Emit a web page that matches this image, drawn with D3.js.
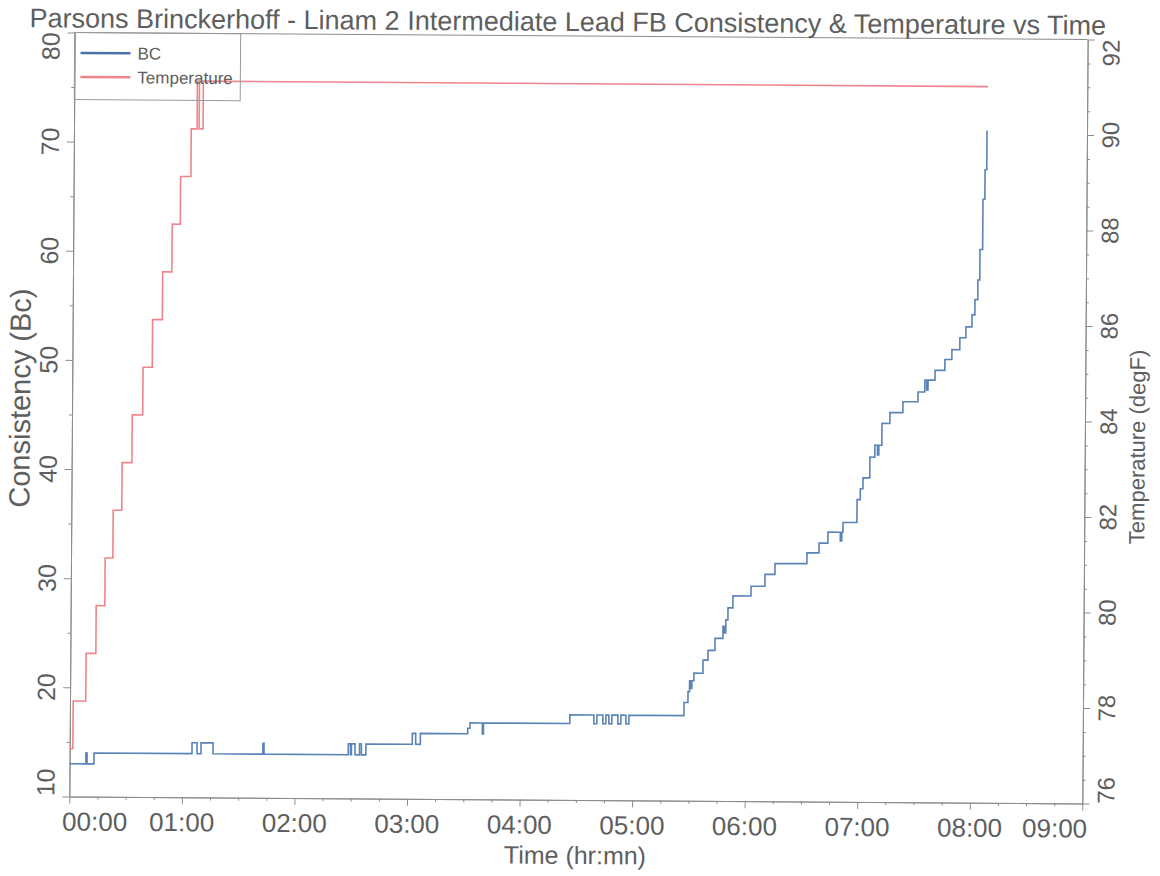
<!DOCTYPE html>
<html><head><meta charset="utf-8">
<script src="https://cdn.jsdelivr.net/npm/d3@7"></script>
<style>
body{margin:0;background:#fff}
text{font-family:"Liberation Sans",Arial,sans-serif;fill:#5e5e5e}
</style>
</head><body>
<svg id="c" width="1160" height="876"></svg>
<script>
const titleText = "Parsons Brinckerhoff - Linam 2 Intermediate Lead FB Consistency & Temperature vs Time";
const xLabel = "Time (hr:mn)";
const yLeftLabel = "Consistency (Bc)";
const yRightLabel = "Temperature (degF)";
const seriesNames = ["BC", "Temperature"];
const xTickMinutes = [0, 60, 120, 180, 240, 300, 360, 420, 480, 540];
const xTickLabels = ["00:00", "01:00", "02:00", "03:00", "04:00", "05:00", "06:00", "07:00", "08:00", "09:00"];
const bcTicks = [10, 20, 30, 40, 50, 60, 70, 80];
const tempTicks = [76, 78, 80, 82, 84, 86, 88, 90, 92];

// BC consistency: time (min) and value, held until the next sample
const bcTime = [0, 8.7, 9.3, 13.0, 65.2, 67.9, 70.0, 76.4, 103.0, 103.6,
  148.5, 149.7, 150.2, 152.1, 154.5, 155.5, 157.9, 182.6, 184.4, 186.9,
  212.1, 213.3, 219.9, 220.5, 266.5, 279.3, 280.9, 284.1, 285.7, 287.3,
  288.9, 292.1, 293.7, 296.4, 298.0, 327.3, 329.4, 330.2, 330.8, 331.4,
  332.5, 337.3, 339.9, 343.6, 347.8, 348.6, 349.3, 350.4, 353.0, 362.6,
  370.0, 375.3, 392.3, 398.7, 403.4, 410.0, 410.8, 411.4, 418.8, 420.5,
  421.9, 425.5, 428.1, 429.5, 430.2, 431.8, 436.0, 442.9, 450.9, 454.5,
  455.5, 456.2, 459.9, 465.1, 468.8, 473.0, 476.2, 479.4, 480.9, 482.4,
  483.4, 484.8, 485.8, 486.7];
const bcValue = [13, 14, 13, 14, 15, 14, 15, 14, 15, 14,
  15, 14, 15, 14, 15, 14, 15, 16, 15, 16,
  16.5, 17, 16, 17, 17.8, 17, 17.8, 17, 17.8, 17,
  17.8, 17, 17.8, 17, 17.8, 19, 20, 21, 20.3, 21,
  21.7, 22.9, 23.8, 24.9, 26, 25.4, 26.6, 27.7, 28.8, 29.7,
  30.8, 31.8, 32.8, 33.7, 34.7, 33.9, 34.7, 35.6, 37.7, 38.7,
  39.7, 41.6, 42.7, 41.8, 42.7, 44.7, 45.7, 46.7, 47.6, 48.7,
  47.8, 48.7, 49.6, 50.6, 51.5, 52.6, 53.6, 54.7, 56.1, 57.9,
  60.7, 65.3, 68.0, 71.6];

// Temperature: time (min) and value (degF)
const tempTime = [0, 1.7, 8.4, 13.6, 18.2, 22.3, 26.9, 32.1, 37.7, 42.6, 47.8, 52.7, 57.0, 62.5, 65.6, 66.7, 68.8, 487.1];
const tempValue = [77, 78, 79, 80, 81, 82, 83, 84, 85, 86, 87, 88, 89, 90, 91, 90, 91, 91];

const m = {left: 72, right: 1085, top: 36, bottom: 800};
const axisColor = "#8c8c8c";
const bcColor = "#5a83b7";
const bcLegendColor = "#4a72a4";
const tempColor = "#f0848c";

const svg = d3.select("#c");
const g = svg.append("g").attr("transform", "rotate(0.4,578.5,418)");

const x = d3.scaleLinear().domain([0, 540]).range([m.left, m.right]);
const yL = d3.scaleLinear().domain([10, 80]).range([m.bottom, m.top]);
const yR = d3.scaleLinear().domain([76, 92]).range([m.bottom, m.top]);

function styleAxis(sel) {
  sel.selectAll("path,line").attr("stroke", axisColor).attr("stroke-width", 1);
  sel.selectAll("text").remove();
}

// minor + major ticks
const minorX = d3.range(0, 541, 15).filter(v => v % 60 !== 0);
g.append("g").attr("transform", `translate(0,${m.bottom})`)
  .call(d3.axisBottom(x).tickValues(minorX).tickSize(3).tickSizeOuter(0)).call(styleAxis);
g.append("g").attr("transform", `translate(0,${m.bottom})`)
  .call(d3.axisBottom(x).tickValues(xTickMinutes).tickSize(7).tickSizeOuter(0)).call(styleAxis);

const minorL = d3.range(15, 80, 10);
g.append("g").attr("transform", `translate(${m.left},0)`)
  .call(d3.axisLeft(yL).tickValues(minorL).tickSize(3).tickSizeOuter(0)).call(styleAxis);
g.append("g").attr("transform", `translate(${m.left},0)`)
  .call(d3.axisLeft(yL).tickValues(bcTicks).tickSize(7).tickSizeOuter(0)).call(styleAxis);

const minorR = d3.range(76.5, 92, 0.5).filter(v => v % 2 !== 0);
g.append("g").attr("transform", `translate(${m.right},0)`)
  .call(d3.axisRight(yR).tickValues(minorR).tickSize(3).tickSizeOuter(0)).call(styleAxis);
g.append("g").attr("transform", `translate(${m.right},0)`)
  .call(d3.axisRight(yR).tickValues(tempTicks).tickSize(7).tickSizeOuter(0)).call(styleAxis);

// top frame line
g.append("line").attr("x1", m.left).attr("x2", m.right).attr("y1", m.top).attr("y2", m.top)
  .attr("stroke", axisColor).attr("stroke-width", 1);

// x tick labels
xTickMinutes.forEach((v, i) => {
  const last = i === xTickMinutes.length - 1;
  g.append("text")
    .attr("x", i === 0 ? x(v) - 7 : last ? x(v) + 5 : x(v))
    .attr("y", 834)
    .attr("text-anchor", i === 0 ? "start" : last ? "end" : "middle")
    .attr("font-size", 26)
    .text(xTickLabels[i]);
});

// left tick labels (rotated)
bcTicks.forEach((v, i) => {
  const last = i === bcTicks.length - 1;
  g.append("text")
    .attr("transform", `translate(57,${yL(v)}) rotate(-90)`)
    .attr("text-anchor", i === 0 ? "start" : last ? "end" : "middle")
    .attr("font-size", 25)
    .text(v);
});

// right tick labels (rotated)
tempTicks.forEach((v, i) => {
  const last = i === tempTicks.length - 1;
  g.append("text")
    .attr("transform", `translate(1117,${yR(v)}) rotate(-90)`)
    .attr("text-anchor", i === 0 ? "start" : last ? "end" : "middle")
    .attr("font-size", 24)
    .text(v);
});

// titles
g.append("text").attr("x", 565).attr("y", 31).attr("text-anchor", "middle")
  .attr("font-size", 27).text(titleText);
g.append("text").attr("x", 578).attr("y", 864).attr("text-anchor", "middle")
  .attr("font-size", 25).text(xLabel);
g.append("text").attr("transform", "translate(30,402) rotate(-90)").attr("text-anchor", "middle")
  .attr("font-size", 29).text(yLeftLabel);
g.append("text").attr("transform", "translate(1145,443) rotate(-90)").attr("text-anchor", "middle")
  .attr("font-size", 22).text(yRightLabel);

// series
const bcData = d3.zip(bcTime, bcValue);
const tempData = d3.zip(tempTime, tempValue);
g.append("path").datum(tempData)
  .attr("d", d3.line().x(d => x(d[0])).y(d => yR(d[1])).curve(d3.curveStepAfter))
  .attr("fill", "none").attr("stroke", tempColor).attr("stroke-width", 1.6);
g.append("path").datum(bcData)
  .attr("d", d3.line().x(d => x(d[0])).y(d => yL(d[1])).curve(d3.curveStepAfter))
  .attr("fill", "none").attr("stroke", bcColor).attr("stroke-width", 1.6);

// legend
const lg = g.append("g");
lg.append("rect").attr("x", m.left).attr("y", m.top).attr("width", 166).attr("height", 67)
  .attr("fill", "none").attr("stroke", "#9a9a9a").attr("stroke-width", 1);
[[bcLegendColor, 56.5], [tempColor, 80.5]].forEach((d, i) => {
  lg.append("line").attr("x1", 78).attr("x2", 128).attr("y1", d[1]).attr("y2", d[1])
    .attr("stroke", d[0]).attr("stroke-width", 2.5);
  lg.append("text").attr("x", 135).attr("y", d[1] + 6).attr("font-size", 17).text(seriesNames[i]);
});
</script>
</body></html>
